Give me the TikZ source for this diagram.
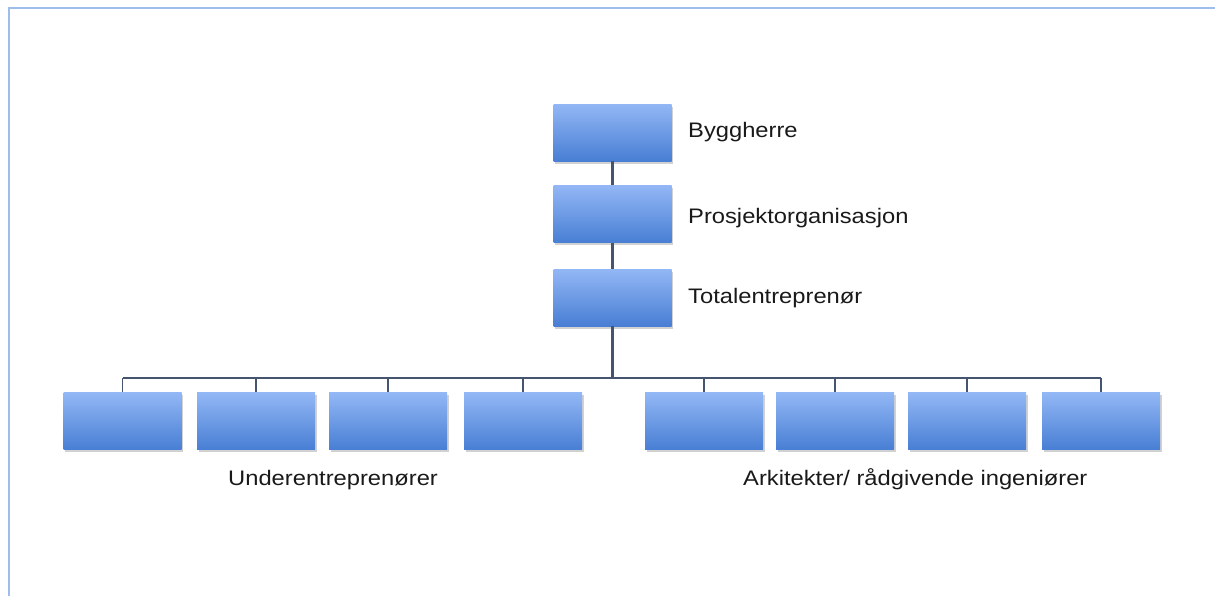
\documentclass[tikz,border=0pt]{standalone}
\usepackage{fontspec}
\setmainfont[FakeStretch=1.13]{Liberation Sans}
\usetikzlibrary{shadows}
\definecolor{boxtop}{HTML}{93B7F5}
\definecolor{boxbot}{HTML}{487ED4}
\definecolor{linkcol}{HTML}{46556F}
\definecolor{framecol}{HTML}{9DBDEA}
\tikzset{
  orgbox/.style={rectangle, minimum width=118pt, minimum height=57pt,
    inner sep=0pt, top color=boxtop, bottom color=boxbot, draw=none,
    drop shadow={shadow xshift=1.5pt, shadow yshift=-2.5pt, opacity=0.3, fill=black!60}},
  link/.style={draw=linkcol, line width=2.6pt},
  stub/.style={draw=linkcol, line width=1.8pt},
  lbl/.style={anchor=base west, inner sep=0pt, text=black!90,
    font=\fontsize{21}{25}\selectfont}
}
\begin{document}
\begin{tikzpicture}[x=1pt,y=-1pt]
\useasboundingbox (0,0) rectangle (1215,595);
% outer frame (top and left edges)
\draw[framecol, line width=2.6pt] (9,597) -- (9,8) -- (1217,8);

% upper chain
\node[orgbox] (bh) at (612.5,132.5) {};
\node[orgbox] (po) at (612.5,214) {};
\node[orgbox] (te) at (612.5,297.5) {};
\node[lbl] (bhl) at (688,137) {Byggherre};
\node[lbl] (pol) at (688,223) {Prosjektorganisasjon};
\node[lbl] (tel) at (688,303) {Totalentreprenør};

% lower row
\foreach \n/\x in {u1/122.5, u2/256, u3/388, u4/523, a1/704, a2/835, a3/967, a4/1101}
  \node[orgbox] (\n) at (\x,421) {};

\coordinate (hub) at (612.5,378);
\coordinate (hl) at (u1.north |- hub);
\coordinate (hr) at (a4.north |- hub);

\draw[link] (bh.south) -- (po.north);
\draw[link] (po.south) -- (te.north);
\draw[link] (te.south) -- (hub);
\draw[stub] (hl) -- (hr);
\foreach \n in {u1,u2,u3,u4,a1,a2,a3,a4}
  \draw[stub] (\n.north |- hub) -- (\n.north);

\node[lbl] (ul) at (228,485) {Underentreprenører};
\node[lbl] (al) at (743,485) {Arkitekter/ rådgivende ingeniører};
\end{tikzpicture}
\end{document}
